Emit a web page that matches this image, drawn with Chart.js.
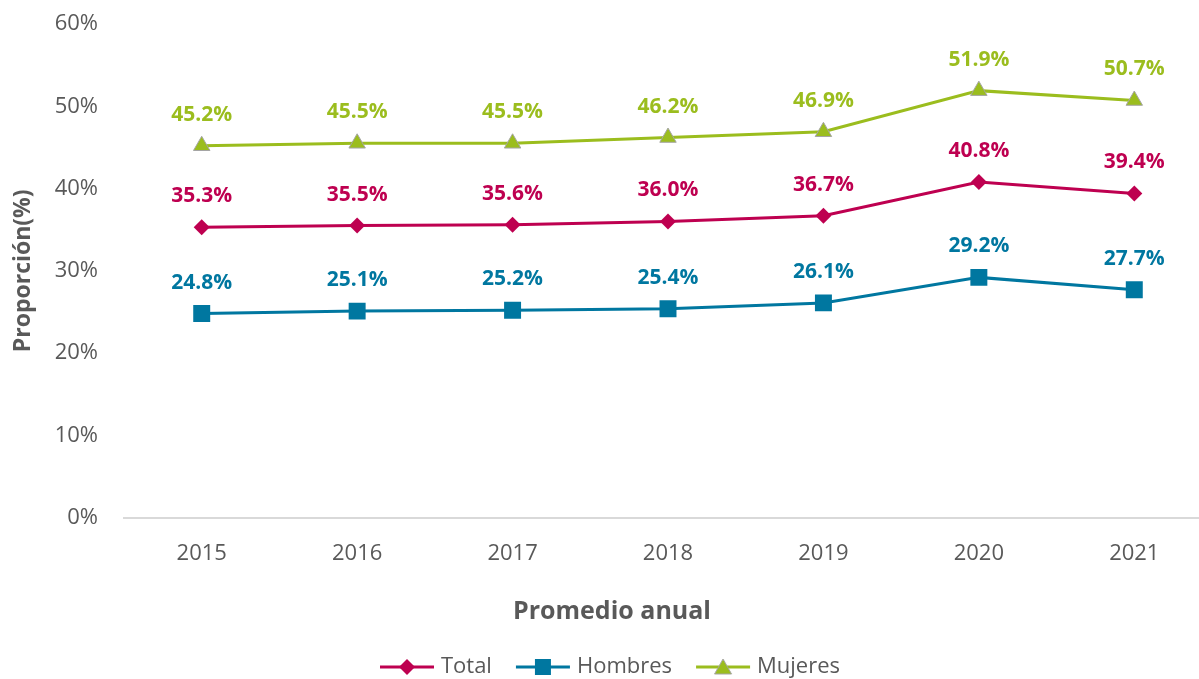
<!DOCTYPE html>
<html>
<head>
<meta charset="utf-8">
<script src="https://cdn.jsdelivr.net/npm/chart.js@4/dist/chart.umd.min.js"></script>
<style>
  html, body { margin: 0; padding: 0; background: #fff; overflow: hidden; width: 1199px; height: 679px; }
  #wrap { width: 1224px; height: 688px; }
  #chart { width: 1224px; height: 688px; display: block; }
</style>
</head>
<body>
<div id="wrap"><canvas id="chart" width="1224" height="688"></canvas></div>
<script>
const years = ['2015', '2016', '2017', '2018', '2019', '2020', '2021'];
const total = [35.3, 35.5, 35.6, 36.0, 36.7, 40.8, 39.4];
const hombres = [24.8, 25.1, 25.2, 25.4, 26.1, 29.2, 27.7];
const mujeres = [45.2, 45.5, 45.5, 46.2, 46.9, 51.9, 50.7];

const RED = '#BE0050';
const BLUE = '#0077A0';
const GREEN = '#9BBD1E';
const GREY = '#595959';
const FONT = "'Open Sans', 'DejaVu Sans', sans-serif";

// little line+marker picture for the legend
function legendIcon(color, style, border) {
  const c = document.createElement('canvas');
  c.width = 56; c.height = 20;
  const ctx = c.getContext('2d');
  ctx.strokeStyle = color;
  ctx.lineWidth = 3;
  ctx.beginPath();
  ctx.moveTo(1, 10); ctx.lineTo(55, 10);
  ctx.stroke();
  ctx.fillStyle = color;
  ctx.beginPath();
  if (style === 'diamond') {
    ctx.moveTo(28, 2); ctx.lineTo(36, 10); ctx.lineTo(28, 18); ctx.lineTo(20, 10);
  } else if (style === 'square') {
    ctx.rect(20, 2, 16, 16);
  } else {
    ctx.moveTo(28, 2); ctx.lineTo(36.5, 17); ctx.lineTo(19.5, 17);
  }
  ctx.closePath();
  ctx.fill();
  if (border) { ctx.strokeStyle = border; ctx.lineWidth = 1; ctx.stroke(); }
  return c;
}

const icons = [
  legendIcon(RED, 'diamond'),
  legendIcon(BLUE, 'square'),
  legendIcon(GREEN, 'triangle', '#A5A5A5')
];

const pointLabels = {
  id: 'pointLabels',
  afterDatasetsDraw(chart) {
    const ctx = chart.ctx;
    ctx.save();
    ctx.font = 'bold 21px ' + FONT;
    ctx.textAlign = 'center';
    ctx.textBaseline = 'middle';
    chart.data.datasets.forEach((ds, i) => {
      const meta = chart.getDatasetMeta(i);
      ctx.fillStyle = ds.borderColor;
      meta.data.forEach((pt, j) => {
        ctx.fillText(ds.data[j].toFixed(1) + '%', pt.x, pt.y - 31);
      });
    });
    ctx.restore();
  }
};

new Chart(document.getElementById('chart'), {
  type: 'line',
  data: {
    labels: years,
    datasets: [
      {
        label: 'Total', data: total,
        borderColor: RED, backgroundColor: RED, borderWidth: 3,
        pointStyle: 'rectRot', pointRadius: 8, pointHoverRadius: 8,
        pointBorderWidth: 0, tension: 0
      },
      {
        label: 'Hombres', data: hombres,
        borderColor: BLUE, backgroundColor: BLUE, borderWidth: 3,
        pointStyle: 'rect', pointRadius: 12, pointHoverRadius: 12,
        pointBorderWidth: 0, tension: 0
      },
      {
        label: 'Mujeres', data: mujeres,
        borderColor: GREEN, backgroundColor: GREEN, borderWidth: 3,
        pointStyle: 'triangle', pointRadius: 9.5, pointHoverRadius: 9.5,
        pointBorderColor: '#A5A5A5', pointBorderWidth: 1, tension: 0
      }
    ]
  },
  options: {
    responsive: false,
    animation: false,
    devicePixelRatio: 1,
    layout: { padding: { top: 24, right: 0, left: 0, bottom: 0 } },
    scales: {
      x: {
        offset: true,
        grid: { display: false },
        border: { display: true, color: '#D9D9D9', width: 2 },
        ticks: { color: GREY, font: { family: FONT, size: 22 }, padding: 15 }
      },
      y: {
        min: 0, max: 60,
        afterFit(scale) {
          scale.width = 124;
          scale.paddingTop = 0;
          scale.paddingBottom = 0;
        },
        grid: { display: false },
        border: { display: false },
        ticks: {
          stepSize: 10, color: GREY, padding: 18,
          font: { family: FONT, size: 22 },
          callback: v => v + '%'
        },
        title: {
          display: true, text: 'Proporción(%)', color: GREY,
          font: { family: FONT, size: 23, weight: 'bold' },
          padding: { top: 10, bottom: 0 }
        }
      }
    },
    plugins: {
      tooltip: { enabled: false },
      title: {
        display: true, position: 'bottom', text: 'Promedio anual', color: GREY,
        weight: 500,
        font: { family: FONT, size: 25, weight: 'bold' },
        padding: { top: 15, bottom: 1 }
      },
      legend: {
        position: 'bottom',
        labels: {
          color: GREY,
          font: { family: FONT, size: 22 },
          usePointStyle: true,
          pointStyleWidth: 46,
          padding: 28,
          generateLabels(chart) {
            return chart.data.datasets.map((ds, i) => ({
              text: ds.label,
              pointStyle: icons[i],
              fillStyle: ds.borderColor,
              strokeStyle: ds.borderColor,
              lineWidth: 0,
              fontColor: GREY,
              hidden: false,
              datasetIndex: i
            }));
          }
        }
      }
    }
  },
  plugins: [pointLabels]
});
</script>
</body>
</html>
